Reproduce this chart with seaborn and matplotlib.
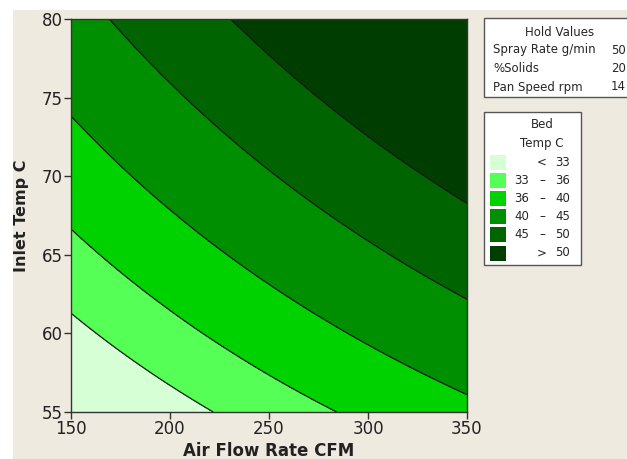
import numpy as np
import matplotlib
matplotlib.use("Agg")
import matplotlib.pyplot as plt
from matplotlib.patches import Rectangle
import seaborn as sns

# Contour-line points (Air Flow CFM, Inlet Temp C) per Bed Temp level
lvl33_x = [150, 161.3, 178.1, 195.0, 211.8, 220.2]
lvl33_y = [61.2, 60.2, 58.5, 57.2, 56.0, 55.0]
lvl36_x = [150, 161.3, 178.1, 195.0, 211.8, 228.6, 250.5, 262.3, 282.5]
lvl36_y = [66.6, 65.3, 63.4, 61.7, 60.2, 58.9, 57.5, 56.6, 55.0]
lvl40_x = [150, 161.3, 178.0, 200.0, 211.8, 228.6, 250.5, 279.1, 312.8, 349.0]
lvl40_y = [73.9, 72.7, 70.6, 67.9, 66.8, 65.1, 63.2, 60.9, 58.5, 56.1]
lvl45_x = [169.7, 186.5, 203.4, 220.2, 250.5, 270.7, 296.0, 321.2, 349.0]
lvl45_y = [80.0, 77.2, 75.5, 73.4, 70.2, 68.5, 65.9, 64.2, 62.2]
lvl50_x = [230.3, 250.5, 271.2, 296.0, 321.2, 349.0]
lvl50_y = [80.0, 78.0, 75.0, 72.9, 71.0, 68.3]

levels = [33, 36, 40, 45, 50]
colors = ["#D6FFD6", "#55FF55", "#00D200", "#008F00", "#006400", "#003D00"]
legend_labels = [("", "<", "33"), ("33", "\u2013", "36"), ("36", "\u2013", "40"),
                 ("40", "\u2013", "45"), ("45", "\u2013", "50"), ("", ">", "50")]
hold_names = ["Spray Rate g/min", "%Solids", "Pan Speed rpm"]
hold_vals = ["50", "20", "14"]
xticks = [150, 200, 250, 300, 350]
yticks = [55, 60, 65, 70, 75, 80]

# fit a quadratic response surface through the read contour points
px, py, pz = [], [], []
for lx, ly, lv in [(lvl33_x, lvl33_y, 33), (lvl36_x, lvl36_y, 36), (lvl40_x, lvl40_y, 40),
                   (lvl45_x, lvl45_y, 45), (lvl50_x, lvl50_y, 50)]:
    px += lx; py += ly; pz += [lv] * len(lx)
px = (np.array(px) - 250) / 100.0
py = (np.array(py) - 67.5) / 12.5
pz = np.array(pz, dtype=float)
A = np.column_stack([np.ones_like(px), px, py, px**2, py**2, px * py])
coef, *_ = np.linalg.lstsq(A, pz, rcond=None)

gx = np.linspace(150, 350, 300)
gy = np.linspace(55, 80, 300)
GX, GY = np.meshgrid(gx, gy)
u = (GX - 250) / 100.0
v = (GY - 67.5) / 12.5
Z = coef[0] + coef[1]*u + coef[2]*v + coef[3]*u**2 + coef[4]*v**2 + coef[5]*u*v

sns.set_style("ticks")
plt.rcParams['font.family'] = ['DejaVu Sans']

fig = plt.figure(figsize=(6.27, 4.59), dpi=100)
fig.patch.set_facecolor("white")
W, H = 627.0, 459.0
fig.patches.append(Rectangle((13 / W, 0), 1, 1 - 10 / H, transform=fig.transFigure,
                             facecolor="#EEEAE0", edgecolor="none", zorder=-10))

ax = fig.add_axes([71 / W, 1 - 412 / H, 396 / W, 393 / H])
bounds = [min(Z.min(), 0) - 1] + levels + [Z.max() + 1]
ax.contourf(GX, GY, Z, levels=bounds, colors=colors)
ax.contour(GX, GY, Z, levels=levels, colors="#1a1a1a", linewidths=0.9)
ax.set_xlim(150, 350)
ax.set_ylim(55, 80)
ax.set_xticks(xticks)
ax.set_yticks(yticks)
ax.tick_params(axis="both", labelsize=12, length=5, width=1, color="#333333",
               labelcolor="#222222", pad=1)
for s in ax.spines.values():
    s.set_color("#333333")
    s.set_linewidth(1)
ax.set_xlabel("Air Flow Rate CFM", fontsize=12, fontweight="bold", labelpad=3,
              color="#222222")
ax.set_ylabel("Inlet Temp C", fontsize=11.5, fontweight="bold", labelpad=9,
              color="#222222")

def fx(p): return p / W
def fy(p): return 1 - p / H

# Hold values box
fig.patches.append(Rectangle((fx(484), fy(97)), (640 - 484) / W, (97 - 18) / H,
                             transform=fig.transFigure, facecolor="white",
                             edgecolor="#555555", linewidth=1))
fs = 8.5
fig.text(fx(560), fy(32), "Hold Values", ha="center", va="center", fontsize=fs)
for i, (n, val) in enumerate(zip(hold_names, hold_vals)):
    yy = fy(50 + i * 18.5)
    fig.text(fx(493), yy, n, ha="left", va="center", fontsize=fs)
    fig.text(fx(626), yy, val, ha="right", va="center", fontsize=fs)

# Bed temp legend box
fig.patches.append(Rectangle((fx(484), fy(265)), (581 - 484) / W, (265 - 112) / H,
                             transform=fig.transFigure, facecolor="white",
                             edgecolor="#555555", linewidth=1))
fig.text(fx(542), fy(125), "Bed", ha="center", va="center", fontsize=fs)
fig.text(fx(542), fy(143), "Temp C", ha="center", va="center", fontsize=fs)
for i, (c, (a, m, b)) in enumerate(zip(colors, legend_labels)):
    yc = 162 + i * 18.2
    fig.patches.append(Rectangle((fx(490), fy(yc + 7.5)), 16 / W, 15 / H,
                                 transform=fig.transFigure, facecolor=c, edgecolor="none"))
    if a:
        fig.text(fx(522), fy(yc), a, ha="center", va="center", fontsize=fs)
    fig.text(fx(542), fy(yc), m, ha="center", va="center", fontsize=fs)
    fig.text(fx(563), fy(yc), b, ha="center", va="center", fontsize=fs)

fig.savefig("out.png", dpi=100)
